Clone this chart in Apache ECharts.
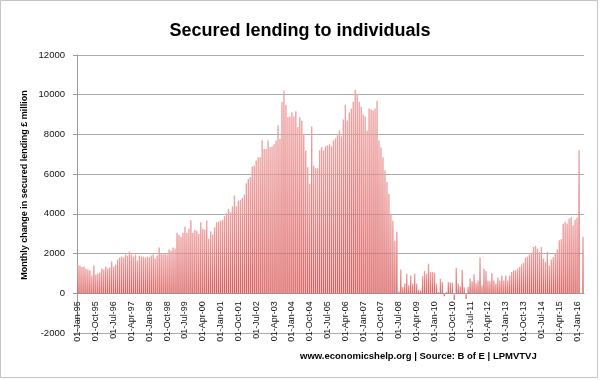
<!DOCTYPE html>
<html><head><meta charset="utf-8">
<script src="https://cdn.jsdelivr.net/npm/echarts/dist/echarts.min.js"></script>
<style>html,body{margin:0;padding:0;background:#fff}#c{width:600px;height:380px}</style>
</head><body><div id="c"></div>
<script>
// Monthly change in secured lending to individuals (£ million)
const v1995 = [1430,1400,1330,1350,1250,1200,1150,900,1400,950,1000,1050];
const v1996 = [1250,1200,1350,1250,1300,1600,1350,1450,1700,1800,1850,1800];
const v1997 = [1950,1900,2100,1950,1850,1950,1650,1900,1850,1850,1800,1850];
const v1998 = [1800,1900,1950,1750,1900,2300,2000,1950,2000,1950,2200,2150];
const v1999 = [2300,2250,3050,2950,2850,3050,3350,3050,3250,3680,3050,3200];
const v2000 = [3150,2990,3580,3250,3200,3660,2750,3120,2960,3320,3580,3620];
const v2001 = [3660,3700,3880,4030,4250,4080,4380,4920,4380,4670,4700,4800];
const v2002 = [4970,5540,5760,5850,6380,6430,6690,6850,6850,7690,7270,7270];
const v2003 = [7690,7350,7390,7500,7690,8450,7780,9630,10210,9500,8870,8900];
const v2004 = [9120,8900,9170,8370,8870,8700,8000,7190,6350,5510,8400,6430];
const v2005 = [6300,6300,7200,7350,7200,7400,7450,7500,7400,7700,7800,7950];
const v2006 = [8200,7900,8750,9500,8700,9100,9300,9650,10250,10050,9650,9400];
const v2007 = [9000,8900,8200,9300,9250,9200,9300,9700,7700,7350,6850,6200];
const v2008 = [5600,5000,4000,3650,2650,3100,100,1200,320,490,990,400];
const v2009 = [900,490,990,490,185,150,860,1125,990,1490,1075,1075];
const v2010 = [1040,490,70,740,570,-150,70,570,540,540,-330,1290];
const v2011 = [490,350,1190,300,-280,320,740,600,960,520,650,1800];
const v2012 = [400,1240,1125,650,600,1025,650,490,790,650,900,650];
const v2013 = [900,650,900,1075,1160,1160,1240,1330,1460,1530,1800,1850];
const v2014 = [1950,2050,2330,2380,2250,2080,2330,1750,1580,2080,1410,1700];
const v2015 = [1830,2000,2200,2670,2720,3500,3590,3510,3760,3840,3420,3700];
const v2016 = [3800,7200,null,2850];

const years = [1995,1996,1997,1998,1999,2000,2001,2002,2003,2004,2005,2006,2007,2008,2009,2010,2011,2012,2013,2014,2015,2016];
const yearValues = [v1995,v1996,v1997,v1998,v1999,v2000,v2001,v2002,v2003,v2004,v2005,v2006,v2007,v2008,v2009,v2010,v2011,v2012,v2013,v2014,v2015,v2016];
const monthNames = ['Jan','Feb','Mar','Apr','May','Jun','Jul','Aug','Sep','Oct','Nov','Dec'];
const yTicks = {min:-2000, max:12000, step:2000};

const categories = [];
const values = [];
years.forEach((y, k) => {
  yearValues[k].forEach((v, m) => {
    categories.push('01-' + monthNames[m] + '-' + String(y).slice(2));
    values.push(v);
  });
});

const GRID = {left: 77, right: 16, top: 55, bottom: 47};
const chart = echarts.init(document.getElementById('c'));
const FONT = '"Liberation Sans", Arial, sans-serif';
// distance from grid bottom up to the zero line, so tick labels hang under zero like the reference
const plotH = 380 - GRID.top - GRID.bottom;
const zeroOffset = -plotH * (0 - yTicks.min) / (yTicks.max - yTicks.min);

chart.setOption({
  animation: false,
  backgroundColor: '#ffffff',
  title: {
    text: 'Secured lending to individuals',
    left: 'center', top: 17,
    textStyle: {fontFamily: FONT, fontWeight: 'bold', fontSize: 18, color: '#000'}
  },
  grid: GRID,
  xAxis: [{
    type: 'category', data: categories,
    axisLine: {onZero: true, lineStyle: {color: '#9a9a9a'}},
    axisTick: {show: false},
    axisLabel: {show: false}
  }, {
    type: 'category', data: categories, position: 'bottom', offset: zeroOffset,
    axisLine: {show: false}, axisTick: {show: false}, splitLine: {show: false},
    axisLabel: {interval: 8, rotate: 90, fontSize: 9, color: '#111', margin: 8, fontFamily: '"Liberation Sans Narrow", ' + FONT}
  }],
  yAxis: {
    type: 'value', min: yTicks.min, max: yTicks.max, interval: yTicks.step,
    axisLine: {show: true, lineStyle: {color: '#9a9a9a'}},
    axisTick: {show: true, length: 4, lineStyle: {color: '#9a9a9a'}},
    splitLine: {lineStyle: {color: '#ababab'}},
    axisLabel: {fontSize: 9.5, color: '#111', margin: 12, fontFamily: FONT, formatter: v => String(v)}
  },
  series: [{
    type: 'bar', data: values, barCategoryGap: '30%', xAxisIndex: 0,
    itemStyle: {
      color: new echarts.graphic.LinearGradient(0, 0, 0, 1, [
        {offset: 0, color: '#eea3a3'},
        {offset: 1, color: '#d95a5a'}
      ])
    }
  }],
  graphic: [
    {type: 'rect', silent: true, shape: {x: 0.5, y: 0.5, width: 597, height: 377},
     style: {fill: null, stroke: '#c4c4c4', lineWidth: 1}},
    {type: 'text', x: 25, y: 185, rotation: Math.PI / 2,
     style: {text: 'Monthly change in secured lending £ million', font: 'bold 9px ' + FONT,
             textAlign: 'center', textVerticalAlign: 'middle', align: 'center', verticalAlign: 'middle', fill: '#000'}},
    {type: 'text', x: 300, y: 356,
     style: {text: 'www.economicshelp.org | Source: B of E | LPMVTVJ', font: 'bold 9.5px ' + FONT,
             textAlign: 'left', textVerticalAlign: 'middle', align: 'left', verticalAlign: 'middle', fill: '#000'}}
  ]
});
</script></body></html>
